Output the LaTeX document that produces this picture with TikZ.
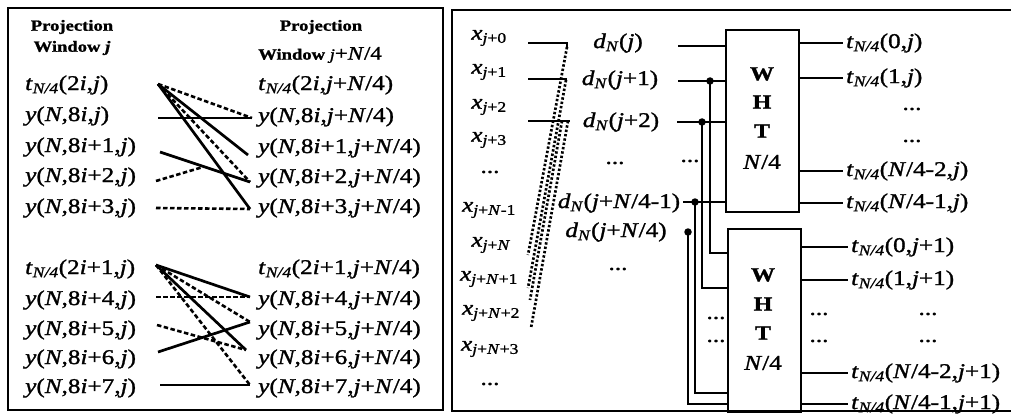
\documentclass[tikz,border=0pt]{standalone}
\usepackage{fontspec}
\setmainfont{Liberation Serif}[FakeStretch=1.2, FakeBold=1.3]
\newcommand\I[1]{\textit{#1}}
\newcommand\tsub{\I{t}\textsubscript{\I{N/4}}}
\newcommand\dsub{\I{d}\textsubscript{\I{N}}}
\begin{document}
\begin{tikzpicture}[x=1pt,y=-1pt,
  lbl/.style={font=\fontsize{21}{24}\selectfont, inner sep=0pt},
  olbl/.style={font=\fontsize{21}{24}\selectfont, inner sep=0pt, inner xsep=3pt, anchor=west},
  hdr/.style={font=\fontsize{15.5}{17}\selectfont\bfseries, inner sep=0pt},
  boxtxt/.style={font=\fontsize{20}{22}\selectfont\bfseries, inner sep=0pt},
  wire/.style={line width=2.7pt},
  dashwire/.style={line width=2.6pt, dash pattern=on 4.5pt off 2.5pt},
  dotwire/.style={line width=2.7pt, dash pattern=on 2.4pt off 2pt},
  blk/.style={draw, line width=1.8pt, inner sep=0pt, anchor=north west},
  jdot/.style={circle, fill, inner sep=0pt, minimum size=7.5pt},
  panel/.style={line width=2.8pt}]
\useasboundingbox (0,0) rectangle (1011,414);
\fill[white] (0,0) rectangle (1011,414);

% ---------------- panels
\draw[panel] (8,8) rectangle (443,410);
\draw[panel] (1013,10) -- (452,10) -- (452,411) -- (1013,411);

% ---------------- left panel headers
\node[hdr] (h1a) at (72,27) {Projection};
\node[hdr] (h1b) at (72,48) {Window \I{j}};
\node[hdr] (h2a) at (321,27) {Projection};
\node[hdr] (h2b) at (320,55) {Window \mdseries\I{j}\fontsize{19}{20}\selectfont+\I{N}/4};

% ---------------- left column labels
\node[lbl, anchor=west] (a0) at (25,85)  {\tsub(2\I{i},\I{j})};
\node[lbl, anchor=west] (a1) at (25,116) {\I{y}(\I{N},8\I{i},\I{j})};
\node[lbl, anchor=west] (a2) at (25,147) {\I{y}(\I{N},8\I{i}+1,\I{j})};
\node[lbl, anchor=west] (a3) at (25,177) {\I{y}(\I{N},8\I{i}+2,\I{j})};
\node[lbl, anchor=west] (a4) at (25,208) {\I{y}(\I{N},8\I{i}+3,\I{j})};
\node[lbl, anchor=west] (b0) at (25,269) {\tsub(2\I{i}+1,\I{j})};
\node[lbl, anchor=west] (b1) at (25,300) {\I{y}(\I{N},8\I{i}+4,\I{j})};
\node[lbl, anchor=west] (b2) at (25,330) {\I{y}(\I{N},8\I{i}+5,\I{j})};
\node[lbl, anchor=west] (b3) at (25,359) {\I{y}(\I{N},8\I{i}+6,\I{j})};
\node[lbl, anchor=west] (b4) at (25,388) {\I{y}(\I{N},8\I{i}+7,\I{j})};
% right column labels
\node[lbl, anchor=west] (c0) at (258,85)  {\tsub(2\I{i},\I{j}+\I{N}/4)};
\node[lbl, anchor=west] (c1) at (258,117) {\I{y}(\I{N},8\I{i},\I{j}+\I{N}/4)};
\node[lbl, anchor=west] (c2) at (258,148) {\I{y}(\I{N},8\I{i}+1,\I{j}+\I{N}/4)};
\node[lbl, anchor=west] (c3) at (258,178) {\I{y}(\I{N},8\I{i}+2,\I{j}+\I{N}/4)};
\node[lbl, anchor=west] (c4) at (258,208) {\I{y}(\I{N},8\I{i}+3,\I{j}+\I{N}/4)};
\node[lbl, anchor=west] (e0) at (258,269) {\tsub(2\I{i}+1,\I{j}+\I{N}/4)};
\node[lbl, anchor=west] (e1) at (258,300) {\I{y}(\I{N},8\I{i}+4,\I{j}+\I{N}/4)};
\node[lbl, anchor=west] (e2) at (258,330) {\I{y}(\I{N},8\I{i}+5,\I{j}+\I{N}/4)};
\node[lbl, anchor=west] (e3) at (258,359) {\I{y}(\I{N},8\I{i}+6,\I{j}+\I{N}/4)};
\node[lbl, anchor=west] (e4) at (258,388) {\I{y}(\I{N},8\I{i}+7,\I{j}+\I{N}/4)};

% ---------------- left panel crossing lines (upper)
\coordinate (uA)  at (158,84);
\coordinate (uL0) at (158,118);
\coordinate (uL1) at (160,152);
\coordinate (uL2) at (156,181);
\coordinate (uL3) at (156,208);
\coordinate (uR0) at (252,118);
\coordinate (uR1) at (248,155);
\coordinate (uR2) at (250,182);
\coordinate (uR3) at (250,209);
\coordinate (uX)  at (203,167);
\draw[dashwire] (uA) -- (uR0);
\draw[wire] (uA) -- (uR1);
\draw[dashwire] (uA) -- (uR2);
\draw[wire] (uA) -- (uR3);
\draw[wire] (uL0) -- (uR0);
\draw[wire] (uL1) -- (uR2);
\draw[dashwire] (uL2) -- (uX);
\draw[dashwire] (uL3) -- (uR3);

% ---------------- left panel crossing lines (lower)
\coordinate (lA)  at (156,265);
\coordinate (lL4) at (156,297);
\coordinate (lL5) at (157,325);
\coordinate (lL6) at (158,352);
\coordinate (lL7) at (160,385);
\coordinate (lR4) at (250,297);
\coordinate (lR5) at (250,322);
\coordinate (lR6) at (246,350);
\coordinate (lR7) at (250,385);
\draw[wire] (lA) -- (lR4);
\draw[dashwire] (lA) -- (lR5);
\draw[wire] (lA) -- (lR6);
\draw[dashwire] (lA) -- (lR7);
\draw[dashwire] (lL4) -- (lR4);
\draw[dashwire] (lL5) -- (lR6);
\draw[wire] (lL6) -- (lR5);
\draw[wire] (lL7) -- (lR7);

% ---------------- right panel: x inputs
\node[lbl] (x0)  at (489,38)  {\I{x}\textsubscript{\I{j}+0}};
\node[lbl] (x1)  at (489,72)  {\I{x}\textsubscript{\I{j}+1}};
\node[lbl] (x2)  at (489,107) {\I{x}\textsubscript{\I{j}+2}};
\node[lbl] (x3)  at (489,140) {\I{x}\textsubscript{\I{j}+3}};
\node[lbl] (xd1) at (490,172) {...};
\node[lbl] (x4)  at (489,210) {\I{x}\textsubscript{\I{j}+\I{N}-1}};
\node[lbl] (x5)  at (491,245) {\I{x}\textsubscript{\I{j}+\I{N}}};
\node[lbl] (x6)  at (489,279) {\I{x}\textsubscript{\I{j}+\I{N}+1}};
\node[lbl] (x7)  at (491,313) {\I{x}\textsubscript{\I{j}+\I{N}+2}};
\node[lbl] (x8)  at (490,349) {\I{x}\textsubscript{\I{j}+\I{N}+3}};
\node[lbl] (xd2) at (490,384) {...};

\coordinate (xs0) at (528,43);  \coordinate (xe0) at (567,43);
\coordinate (xs1) at (528,79);  \coordinate (xe1) at (567,79);
\coordinate (xs2) at (528,121); \coordinate (xe2) at (570,121);
\draw[wire] (xs0) -- (xe0) -- ++(0,4);
\draw[wire] (xs1) -- (xe1);
\draw[wire] (xs2) -- (xe2);
\coordinate (k1a) at (567,47);  \coordinate (k1b) at (528,255);
\coordinate (k2a) at (566,80);  \coordinate (k2b) at (528,288);
\coordinate (k3a) at (562,121); \coordinate (k3b) at (530,300);
\coordinate (k4a) at (568,121); \coordinate (k4b) at (531,328);
\draw[dotwire] (k1a) -- (k1b);
\draw[dotwire] (k2a) -- (k2b);
\draw[dotwire] (k3a) -- (k3b);
\draw[dotwire] (k4a) -- (k4b);

% ---------------- d labels
\node[lbl] (d0)  at (618,43)  {\dsub(\I{j})};
\node[lbl] (d1)  at (620,80)  {\dsub(\I{j}+1)};
\node[lbl] (d2)  at (621,122) {\dsub(\I{j}+2)};
\node[lbl] (dd)  at (615,163) {...};
\node[lbl] (d3)  at (619,203) {\dsub(\I{j}+\I{N}/4-1)};
\node[lbl] (d4)  at (616,232) {\dsub(\I{j}+\I{N}/4)};
\node[lbl] (dd2) at (618,269) {...};
\node[lbl] (dd3) at (690,161) {...};

% ---------------- WHT blocks
\node[blk, minimum width=73pt, minimum height=182pt] (w1) at (725,29) {};
\node[blk, minimum width=73pt, minimum height=183pt] (w2) at (727,228) {};
\node[boxtxt] (w1a) at (762,74)  {W};
\node[boxtxt] (w1b) at (762,102) {H};
\node[boxtxt] (w1c) at (762,131) {T};
\node[lbl]    (w1d) at (762,162) {\I{N}/4};
\node[boxtxt] (w2a) at (763,275) {W};
\node[boxtxt] (w2b) at (763,304) {H};
\node[boxtxt] (w2c) at (763,333) {T};
\node[lbl]    (w2d) at (763,363) {\I{N}/4};

% d lines into block 1
\coordinate (ds0) at (678,46);
\coordinate (ds1) at (678,81);
\coordinate (ds2) at (677,122);
\coordinate (ds3) at (683,202);
\draw[wire] (ds0) -- (w1.west |- ds0);
\draw[wire] (ds1) -- (w1.west |- ds1);
\draw[wire] (ds2) -- (w1.west |- ds2);
\draw[wire] (ds3) -- (w1.west |- ds3);

% junctions and routes into block 2
\node[jdot] (j1) at (710,81) {};
\node[jdot] (j2) at (702,122) {};
\node[jdot] (j3) at (695,202) {};
\node[jdot] (j4) at (688,232) {};
\coordinate (i1) at (727,253);
\coordinate (i2) at (727,288);
\coordinate (i3) at (727,393);
\coordinate (i4) at (727,404);
\draw[wire] (j1.center) |- (i1);
\draw[wire] (j2.center) |- (i2);
\draw[wire] (j3.center) |- (i3);
\draw[wire] (j4.center) |- (i4);
\node[lbl] (wd1) at (716,318) {...};
\node[lbl] (wd2) at (716,341) {...};

% ---------------- outputs block 1
\node[olbl] (o0) at (843,43)  {\tsub(0,\I{j})};
\node[olbl] (o1) at (843,78)  {\tsub(1,\I{j})};
\node[lbl]  (od1) at (912,109) {...};
\node[lbl]  (od2) at (912,141) {...};
\node[olbl] (o2) at (843,171) {\tsub(\I{N}/4-2,\I{j})};
\node[olbl] (o3) at (843,203) {\tsub(\I{N}/4-1,\I{j})};
\draw[wire] (w1.east |- o0.west) -- (o0.west);
\draw[wire] (w1.east |- o1.west) -- (o1.west);
\draw[wire] (w1.east |- o2.west) -- (o2.west);
\draw[wire] (w1.east |- o3.west) -- (o3.west);

% ---------------- outputs block 2
\node[olbl] (p0) at (848,247) {\tsub(0,\I{j}+1)};
\node[olbl] (p1) at (848,280) {\tsub(1,\I{j}+1)};
\node[lbl]  (pd1) at (928,314) {...};
\node[lbl]  (pd2) at (928,341) {...};
\node[lbl]  (pd3) at (819,314) {...};
\node[lbl]  (pd4) at (819,341) {...};
\node[olbl] (p2) at (848,373) {\tsub(\I{N}/4-2,\I{j}+1)};
\node[olbl] (p3) at (848,404) {\tsub(\I{N}/4-1,\I{j}+1)};
\draw[wire] (w2.east |- p0.west) -- (p0.west);
\draw[wire] (w2.east |- p1.west) -- (p1.west);
\draw[wire] (w2.east |- p2.west) -- (p2.west);
\draw[wire] (w2.east |- p3.west) -- (p3.west);
\end{tikzpicture}
\end{document}
